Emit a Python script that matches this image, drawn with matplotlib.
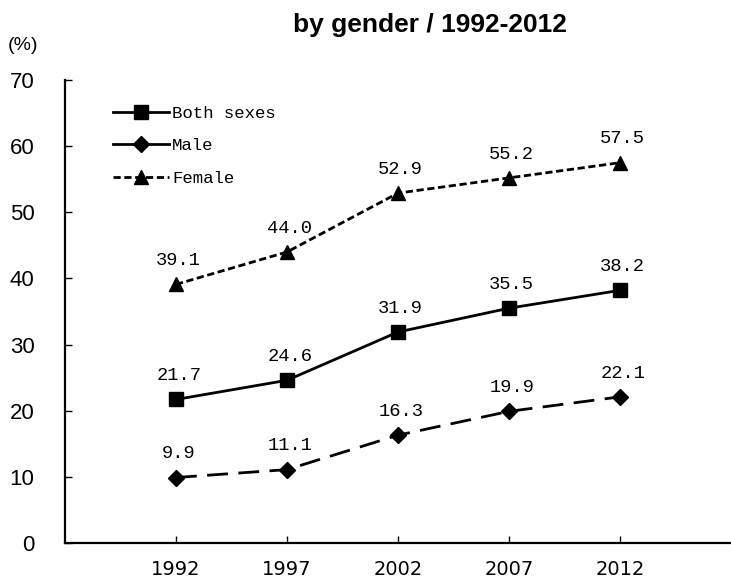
import matplotlib
matplotlib.use("Agg")
import matplotlib.pyplot as plt
from matplotlib.lines import Line2D

years = ["1992", "1997", "2002", "2007", "2012"]
both = [21.7, 24.6, 31.9, 35.5, 38.2]
male = [9.9, 11.1, 16.3, 19.9, 22.1]
female = [39.1, 44.0, 52.9, 55.2, 57.5]
yticks = [0, 10, 20, 30, 40, 50, 60, 70]

fig = plt.figure(figsize=(7.31, 5.78), dpi=100)
ax = fig.add_axes([65/731, 35/578, 666/731, 463/578])

x = list(range(len(years)))
lab_font = "Liberation Mono"
narrow = "Liberation Sans Narrow"

l_both, = ax.plot(x, both, color="black", lw=2, marker="s", markersize=9.5,
                  solid_joinstyle="miter")
l_male, = ax.plot(x, male, color="black", lw=2, marker="D", markersize=8)
l_male.set_dashes((7.5, 3.75))
l_fem, = ax.plot(x, female, color="black", lw=2, marker="^", markersize=10.5)
l_fem.set_dashes((2.6, 1.3))

for series in (both, male, female):
    for xi, v in zip(x, series):
        ax.annotate(f"{v:.1f}", (xi, v), xytext=(2, 11), textcoords="offset points",
                    ha="center", va="bottom", fontsize=13.5, family=lab_font)

ax.set_xlim(-1, 5)
ax.set_ylim(0, 70)
ax.set_xticks(x)
ax.set_xticklabels(years, family=narrow, fontsize=14)
ax.set_yticks(yticks)
ax.set_yticklabels([str(t) for t in yticks], family="Liberation Sans", fontsize=16)
ax.tick_params(axis="both", direction="in", length=5, width=1, color="black")
ax.tick_params(axis="x", pad=12)
ax.tick_params(axis="y", pad=22)

for s in ("top", "right"):
    ax.spines[s].set_visible(False)
for s in ("left", "bottom"):
    ax.spines[s].set_linewidth(1.6)

h_both = Line2D([], [], color="black", lw=2, marker="s", markersize=9.5)
h_male = Line2D([], [], color="black", lw=2, marker="D", markersize=8)
h_fem = Line2D([], [], color="black", lw=2, marker="^", markersize=10.5)
h_fem.set_dashes((2.6, 1.3))
ax.legend([h_both, h_male, h_fem], ["Both sexes", "Male", "Female"],
          loc="upper left", bbox_to_anchor=(0.072, 0.945), frameon=False,
          prop={"family": lab_font, "size": 12.5}, handlelength=3.2,
          handletextpad=0.2, labelspacing=1.0, borderpad=0, borderaxespad=0)

fig.text(430/731, 1 - 25/578, "by gender / 1992-2012", ha="center", va="center",
         fontsize=19, fontweight="bold", family="Liberation Sans")
fig.text(8/731, 1 - 46/578, "(%)", ha="left", va="center", fontsize=14,
         family="Liberation Sans")

fig.savefig("out.png", dpi=100)
